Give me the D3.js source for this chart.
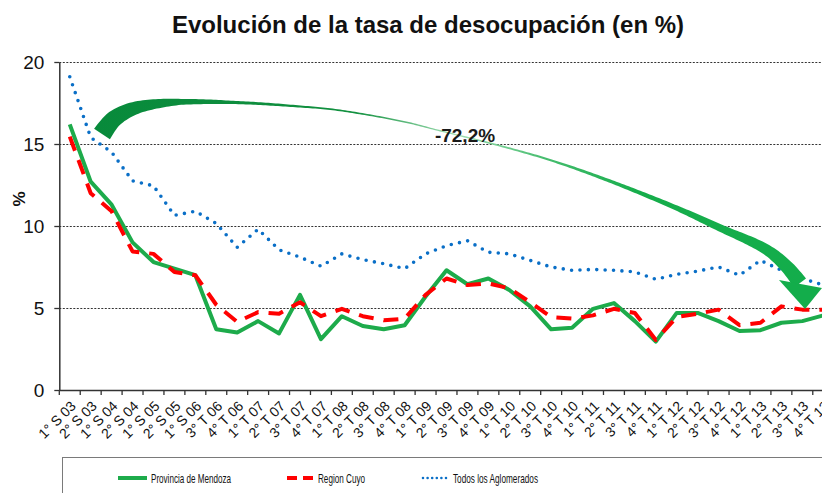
<!DOCTYPE html>
<html>
<head>
<meta charset="utf-8">
<script src="https://cdn.jsdelivr.net/npm/d3@7"></script>
<style>
body { margin: 0; background: #fff; overflow: hidden; }
svg { display: block; font-family: "Liberation Sans", Arial, sans-serif; }
</style>
</head>
<body>
<svg id="chart" width="822" height="493"></svg>
<script>
const categories = [
    "1° S 03", "2° S 03", "1° S 04", "2° S 04", "1° S 05", "2° S 05", "1° S 06",
    "3° T 06", "4° T 06", "1° T 07", "2° T 07", "3° T 07", "4° T 07",
    "1° T 08", "2° T 08", "3° T 08", "4° T 08", "1° T 09", "2° T 09", "3° T 09", "4° T 09",
    "1° T 10", "2° T 10", "3° T 10", "4° T 10", "1° T 11", "2° T 11", "3° T 11", "4° T 11",
    "1° T 12", "2° T 12", "3° T 12", "4° T 12", "1° T 13", "2° T 13", "3° T 13", "4° T 13"
];

const mendoza = [16.2, 12.7, 11.3, 9.0, 7.8, 7.4, 7.0, 3.7, 3.5, 4.2, 3.45, 5.8, 3.1,
    4.5, 3.9, 3.7, 3.95, 5.7, 7.3, 6.45, 6.8, 6.1, 5.1, 3.7, 3.8, 4.95, 5.3, 4.2, 2.95,
    4.7, 4.7, 4.2, 3.6, 3.65, 4.1, 4.2, 4.55];

const cuyo = [15.45, 12.0, 10.9, 8.45, 8.3, 7.2, 7.0, 5.2, 4.15, 4.75, 4.65, 5.35, 4.5,
    4.95, 4.5, 4.25, 4.35, 5.8, 6.8, 6.4, 6.5, 6.2, 5.35, 4.45, 4.35, 4.55, 4.95, 4.7, 3.05,
    4.45, 4.65, 4.9, 3.95, 4.1, 5.1, 4.9, 4.9];

const aglomerados = [19.1, 15.4, 14.5, 12.75, 12.45, 10.65, 10.9, 10.15, 8.7, 9.8, 8.55, 8.1, 7.55,
    8.3, 7.95, 7.7, 7.4, 8.3, 8.8, 9.1, 8.4, 8.3, 7.9, 7.5, 7.3, 7.35, 7.3, 7.2, 6.75,
    7.05, 7.25, 7.5, 7.0, 7.9, 7.3, 6.8, 6.4];

const yTicks = [0, 5, 10, 15, 20];
const seriesNames = ["Provincia de Mendoza", "Region Cuyo", "Todos los Aglomerados"];
const titleText = "Evolución de la tasa de desocupación (en %)";
const changeText = "-72,2%";

// arrow annotation (pixel centre line and width along x)
const arrowCentre = [[102, 134], [114, 119], [134, 108.5], [170, 102.5], [235, 102.5], [300, 106.5],
    [337, 110], [403, 121.5], [437, 130], [497, 145], [550, 160], [607, 180], [673, 206.5],
    [717, 226.5], [767, 250], [787, 267], [800, 283]];
const arrowWidthX = [102, 140, 180, 235, 320, 450, 550, 620, 673, 733, 770, 800];
const arrowWidthW = [19, 12, 6, 3.2, 1.8, 1.3, 2.2, 3.5, 5, 8, 11, 15];
const arrowHead = [[779, 280], [822, 288], [805, 309]];

const series = [
    { name: seriesNames[0], values: mendoza, color: "#1dab4b", width: 4, dash: null, cap: "butt" },
    { name: seriesNames[1], values: cuyo, color: "#ff0000", width: 4, dash: "15,10", cap: "butt" },
    { name: seriesNames[2], values: aglomerados, color: "#0a6fc7", width: 3.6, dash: "0,8.4", cap: "round" }
];

const svg = d3.select("#chart");
const plotLeft = 59.3, plotTop = 62, plotBottom = 390;
const step = 20.93;

const x = d3.scaleBand()
    .domain(categories)
    .range([plotLeft, plotLeft + step * categories.length]);

const y = d3.scaleLinear()
    .domain([0, 20])
    .range([plotBottom, plotTop]);

const cx = d => x(d) + x.bandwidth() / 2;

// title
svg.append("text")
    .attr("x", 428)
    .attr("y", 33)
    .attr("text-anchor", "middle")
    .style("font-size", "24px")
    .style("font-weight", "bold")
    .attr("fill", "#111")
    .text(titleText);

// gridlines
svg.append("g")
    .selectAll("line")
    .data(yTicks.filter(d => d > 0))
    .enter().append("line")
    .attr("x1", plotLeft)
    .attr("x2", plotLeft + step * categories.length)
    .attr("y1", d => Math.round(y(d)) + 0.5)
    .attr("y2", d => Math.round(y(d)) + 0.5)
    .attr("stroke", "#333")
    .attr("stroke-width", 1)
    .attr("stroke-dasharray", "2,1.5");

// y axis
const yAxis = d3.axisLeft(y).tickValues(yTicks).tickSize(5).tickSizeOuter(0).tickPadding(10);
const gy = svg.append("g")
    .attr("transform", `translate(${plotLeft},0)`)
    .call(yAxis);
gy.select(".domain").attr("stroke", "#333").attr("stroke-width", 1.5);
gy.selectAll(".tick line").attr("stroke", "#333").attr("stroke-width", 1.3);
gy.selectAll(".tick text")
    .style("font-size", "19px")
    .style("font-family", "'Liberation Sans', Arial, sans-serif")
    .attr("fill", "#111");

svg.append("text")
    .attr("transform", "translate(25,199) rotate(-90)")
    .attr("text-anchor", "middle")
    .style("font-size", "17px")
    .style("font-weight", "bold")
    .attr("fill", "#111")
    .text("%");

// x axis
const xAxis = d3.axisBottom(x).tickSize(0).tickSizeOuter(0).tickPadding(0);
const gx = svg.append("g")
    .attr("transform", `translate(0,${plotBottom})`)
    .call(xAxis);
gx.select(".domain").attr("stroke", "#333").attr("stroke-width", 1.5);
gx.selectAll(".tick text")
    .style("font-size", "14px")
    .style("font-family", "'Liberation Sans', Arial, sans-serif")
    .attr("fill", "#111")
    .attr("text-anchor", "end")
    .attr("dy", 0)
    .attr("y", 0)
    .attr("transform", "translate(7,17) rotate(-45)");

// boundary ticks on the category axis
gx.append("g")
    .selectAll("line")
    .data(categories.concat([null]))
    .enter().append("line")
    .attr("x1", (d, i) => plotLeft + i * x.step())
    .attr("x2", (d, i) => plotLeft + i * x.step())
    .attr("y1", 0)
    .attr("y2", 5)
    .attr("stroke", "#333")
    .attr("stroke-width", 1.3);

// series lines
const line = d3.line()
    .x((d, i) => cx(categories[i]))
    .y(d => y(d));

series.forEach(s => {
    svg.append("path")
        .datum(s.values)
        .attr("d", line)
        .attr("fill", "none")
        .attr("stroke", s.color)
        .attr("stroke-width", s.width)
        .attr("stroke-linejoin", "round")
        .attr("stroke-linecap", s.cap)
        .attr("stroke-dasharray", s.dash);
});

// curved arrow annotation
const defs = svg.append("defs");
const grad = defs.append("linearGradient")
    .attr("id", "arrowGrad")
    .attr("gradientUnits", "userSpaceOnUse")
    .attr("x1", 90).attr("y1", 0)
    .attr("x2", 822).attr("y2", 0);
[[0, "#078a3b"], [0.36, "#12903f"], [0.5, "#a3dfb5"], [0.62, "#47bd6f"], [0.75, "#16ad4b"], [1, "#13ad4b"]]
    .forEach(s => grad.append("stop").attr("offset", s[0]).attr("stop-color", s[1]));

const widthAt = d3.scaleLinear().domain(arrowWidthX).range(arrowWidthW).clamp(true);
const tmp = svg.append("path")
    .attr("d", d3.line().curve(d3.curveCatmullRom.alpha(0.5))(arrowCentre))
    .attr("fill", "none");
const total = tmp.node().getTotalLength();
const n = 300;
const pts = d3.range(n + 1).map(i => tmp.node().getPointAtLength(total * i / n));
tmp.remove();
const sideA = [], sideB = [];
pts.forEach((p, i) => {
    const a = pts[Math.max(0, i - 1)], b = pts[Math.min(n, i + 1)];
    const dx = b.x - a.x, dy = b.y - a.y, len = Math.hypot(dx, dy) || 1;
    const nx = -dy / len, ny = dx / len;
    const w = widthAt(p.x) / 2;
    sideA.push([p.x + nx * w, p.y + ny * w]);
    sideB.push([p.x - nx * w, p.y - ny * w]);
});
svg.append("path")
    .attr("d", "M" + sideA.concat(sideB.reverse()).map(p => p.join(",")).join("L") + "Z")
    .attr("fill", "url(#arrowGrad)");
svg.append("path")
    .attr("d", "M" + arrowHead.map(p => p.join(",")).join("L") + "Z")
    .attr("fill", "#13ad4b");

svg.append("text")
    .attr("x", 465)
    .attr("y", 142)
    .attr("text-anchor", "middle")
    .style("font-size", "19px")
    .style("font-weight", "bold")
    .attr("fill", "#1a1a1a")
    .text(changeText);

// legend
const legend = svg.append("g");
legend.append("rect")
    .attr("x", 62.5).attr("y", 457.5)
    .attr("width", 820).attr("height", 80)
    .attr("fill", "none")
    .attr("stroke", "#7a7a7a")
    .attr("stroke-width", 1);

const legendItems = [
    { s: series[0], x1: 118, x2: 147, tx: 151, tl: 80, dash: null, cap: "butt", w: 4 },
    { s: series[1], x1: 287, x2: 313, tx: 318, tl: 47, dash: "10,6", cap: "butt", w: 4 },
    { s: series[2], x1: 423, x2: 447, tx: 453, tl: 85, dash: "0,4.6", cap: "round", w: 2.6 }
];
legendItems.forEach(it => {
    legend.append("line")
        .attr("x1", it.x1).attr("x2", it.x2)
        .attr("y1", 478).attr("y2", 478)
        .attr("stroke", it.s.color)
        .attr("stroke-width", it.w)
        .attr("stroke-linecap", it.cap)
        .attr("stroke-dasharray", it.dash);
    legend.append("text")
        .attr("x", it.tx)
        .attr("y", 483)
        .attr("textLength", it.tl)
        .attr("lengthAdjust", "spacingAndGlyphs")
        .style("font-size", "13.5px")
        .attr("fill", "#111")
        .text(it.s.name);
});
</script>
</body>
</html>
